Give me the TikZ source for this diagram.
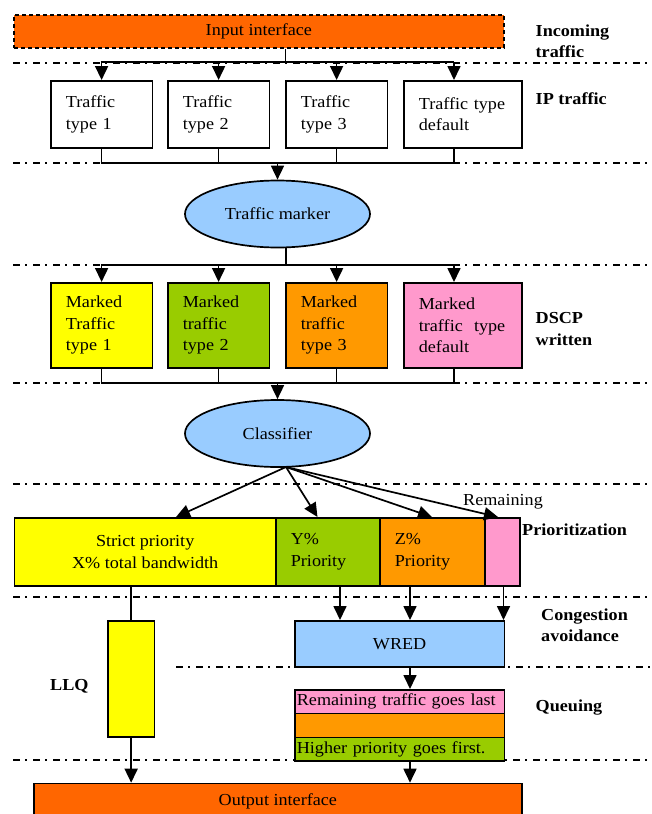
\documentclass[tikz,border=0pt]{standalone}
\usepackage{fontspec}
\setmainfont{Liberation Serif}[FakeStretch=1.08]
\usetikzlibrary{positioning}
\usetikzlibrary{shapes.geometric}
\usetikzlibrary{arrows.meta}

\definecolor{ifaceorange}{HTML}{FF6600}
\definecolor{typeyellow}{HTML}{FFFF00}
\definecolor{typegreen}{HTML}{99CC00}
\definecolor{typeorange}{HTML}{FF9900}
\definecolor{typepink}{HTML}{FF99CC}
\definecolor{ovalblue}{HTML}{99CCFF}

\newcommand{\diagfont}{\fontsize{16.8}{21.5}\selectfont}

\begin{document}
\begin{tikzpicture}[x=1pt, y=-1pt, font=\diagfont]
  \tikzstyle{tbox}=[rectangle, draw = black, line width = 1.7pt, anchor = north west, align = left, inner xsep = 15pt, inner ysep = 0pt, text width = 71.5pt]
  \tikzstyle{oval}=[ellipse, draw = black, line width = 1.7pt, fill = ovalblue, minimum width = 185pt, minimum height = 67pt, inner sep = 0pt]
  \tikzstyle{bar}=[rectangle, draw = black, line width = 1.7pt, anchor = north west, inner sep = 0pt]
  \tikzstyle{layer}=[anchor = west, align = left, inner sep = 0pt, font = \diagfont\bfseries]
  \tikzstyle{connect}=[-{Triangle[length = 14pt, width = 13pt]}, line width = 1.7pt]
  \tikzstyle{wire}=[line width = 1.7pt]
  \tikzstyle{sep}=[line width = 1.3pt, dash pattern = on 7pt off 5pt on 2pt off 6pt]

  \useasboundingbox (0,0) rectangle (651,814);
  \clip (0,0) rectangle (651,814);

  % layer separators
  \foreach \y in {63,163,265,383,484,597,760}
    \draw[sep] (13,\y) -- (651,\y);
  \draw[sep] (176,667) -- (651,667);

  % boxes
  \node[bar, dash pattern = on 4pt off 3pt, fill = ifaceorange, minimum width = 490pt, minimum height = 33pt] (inp) at (13,14) {Input interface};

  \node[tbox, minimum height = 67pt] (t1) at (50,80) {Traffic\\type 1};
  \node[tbox, minimum height = 67pt] (t2) at (167,80) {Traffic\\type 2};
  \node[tbox, minimum height = 67pt] (t3) at (285,80) {Traffic\\type 3};
  \node[tbox, minimum height = 67pt, text width = 88pt] (t4) at (403,80) {Traffic type\\default};

  \node[oval] (marker) at (277.5,214) {Traffic marker};

  \node[tbox, minimum height = 85pt, fill = typeyellow] (m1) at (50,282) {Marked\\Traffic\\type 1};
  \node[tbox, minimum height = 85pt, fill = typegreen] (m2) at (167,282) {Marked\\traffic\\type 2};
  \node[tbox, minimum height = 85pt, fill = typeorange] (m3) at (285,282) {Marked\\traffic\\type 3};
  \node[tbox, minimum height = 85pt, fill = typepink, text width = 88pt] (m4) at (403,282) {Marked\\traffic\ \ type\\default};

  \node[oval] (classifier) at (277.5,433.5) {Classifier};

  \node[bar, fill = typeyellow, minimum width = 261.3pt, minimum height = 68pt, align = center] (p1) at (13.7,517) {Strict priority\\X\% total bandwidth};
  \node[bar, fill = typegreen, minimum height = 68pt, align = left, inner xsep = 15pt, text width = 74pt] (p2) at (275,517) {Y\%\\Priority};
  \node[bar, fill = typeorange, minimum height = 68pt, align = left, inner xsep = 15pt, text width = 75pt] (p3) at (379,517) {Z\%\\Priority};
  \node[bar, fill = typepink, minimum width = 35pt, minimum height = 68pt] (p4) at (484,517) {};

  \node[bar, fill = typeyellow, minimum width = 46.6pt, minimum height = 116pt] (llq) at (107,620) {};
  \node[bar, fill = ovalblue, minimum width = 209.5pt, minimum height = 46pt] (wred) at (294,620) {WRED};

  \node[bar, fill = typepink, minimum width = 209.5pt, minimum height = 23.7pt, inner xsep = 2pt, text width = 205.5pt, align = left] (q1) at (294,689) {Remaining traffic goes last};
  \node[bar, fill = typeorange, minimum width = 209.5pt, minimum height = 24pt] (q2) at (294,712.7) {};
  \node[bar, fill = typegreen, minimum width = 209.5pt, minimum height = 23.3pt, inner xsep = 2pt, text width = 205.5pt, align = left] (q3) at (294,736.7) {Higher priority goes first.};

  \node[bar, fill = ifaceorange, minimum width = 488pt, minimum height = 36pt] (out) at (33,782.7) {Output interface};

  % layer names
  \node[layer] (l-in) at (535.5,41.5) {Incoming\\traffic};
  \node[layer] (l-ip) at (535.5,99) {IP traffic};
  \node[layer] (l-dscp) at (535.5,329) {DSCP\\written};
  \node[layer] (l-prio) at (522,530) {Prioritization};
  \node[layer] (l-cong) at (541,625) {Congestion\\avoidance};
  \node[layer] (l-queue) at (535.5,708) {Queuing};
  \node[layer] (l-llq) at (50,686) {LLQ};
  \node[anchor = west, inner sep = 0pt] (l-rem) at (463,502) {Remaining};

  % bus points
  \coordinate (bus1) at (285.5,62);
  \coordinate (bus1l) at (100.5,62);
  \coordinate (bus1r) at (454,62);
  \coordinate (bus2l) at (100.5,163);
  \coordinate (bus2r) at (454,163);
  \coordinate (bus3) at (286,265);
  \coordinate (bus3l) at (100.5,265);
  \coordinate (bus3r) at (454,265);
  \coordinate (bus4l) at (100.5,383);
  \coordinate (bus4r) at (454,383);
  \coordinate (cls-out) at (286,467);
  \coordinate (tgt1) at (176,517);
  \coordinate (tgt2) at (317.5,517);
  \coordinate (tgt3) at (432,517);
  \coordinate (tgt4) at (498,517);
  \coordinate (down2) at (340,585);
  \coordinate (down3) at (410,585);
  \coordinate (down4) at (503.5,585);

  % input to traffic types
  \draw[wire] (inp.south -| bus1) -- (bus1);
  \draw[wire] (bus1l) -- (bus1r);
  \draw[connect] (t1.north |- bus1l) -- (t1.north);
  \draw[connect] (t2.north |- bus1l) -- (t2.north);
  \draw[connect] (t3.north |- bus1l) -- (t3.north);
  \draw[connect] (bus1r) -- (bus1r |- t4.north);

  % traffic types to marker
  \draw[wire] (t1.south) -- (t1.south |- bus2l);
  \draw[wire] (t2.south) -- (t2.south |- bus2l);
  \draw[wire] (t3.south) -- (t3.south |- bus2l);
  \draw[wire] (bus2r |- t4.south) -- (bus2r);
  \draw[wire] (bus2l) -- (bus2r);
  \draw[connect] (marker.north |- bus2l) -- (marker.north);

  % marker to marked types
  \draw[wire] (marker.south -| bus3) -- (bus3);
  \draw[wire] (bus3l) -- (bus3r);
  \draw[connect] (m1.north |- bus3l) -- (m1.north);
  \draw[connect] (m2.north |- bus3l) -- (m2.north);
  \draw[connect] (m3.north |- bus3l) -- (m3.north);
  \draw[connect] (bus3r) -- (bus3r |- m4.north);

  % marked types to classifier
  \draw[wire] (m1.south) -- (m1.south |- bus4l);
  \draw[wire] (m2.south) -- (m2.south |- bus4l);
  \draw[wire] (m3.south) -- (m3.south |- bus4l);
  \draw[wire] (bus4r |- m4.south) -- (bus4r);
  \draw[wire] (bus4l) -- (bus4r);
  \draw[connect] (classifier.north |- bus4l) -- (classifier.north);

  % classifier to priorities
  \draw[connect] (cls-out) -- (tgt1);
  \draw[connect] (cls-out) -- (tgt2);
  \draw[connect] (cls-out) -- (tgt3);
  \draw[connect] (cls-out) -- (tgt4);

  % priorities to queues
  \draw[wire] (llq.north |- p1.south) -- (llq.north);
  \draw[connect] (down2) -- (down2 |- wred.north);
  \draw[connect] (down3) -- (down3 |- wred.north);
  \draw[connect] (down4) -- (down4 |- wred.north);
  \draw[connect] (wred.south -| down3) -- (q1.north -| down3);
  \draw[connect] (q3.south -| down3) -- (out.north -| down3);
  \draw[connect] (llq.south) -- (llq.south |- out.north);

\end{tikzpicture}
\end{document}
